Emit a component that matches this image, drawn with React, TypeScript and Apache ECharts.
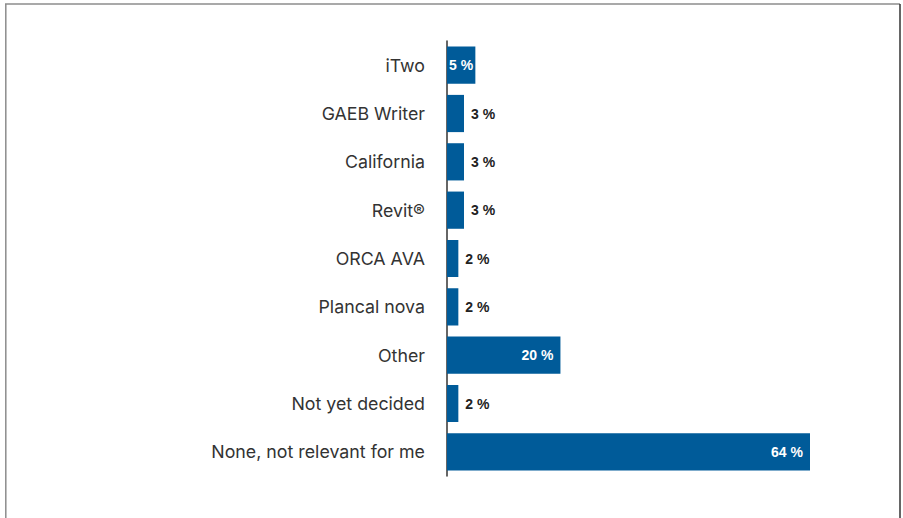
import React, { useEffect, useRef } from "react";
import * as echarts from "echarts";

const categories = [
  "iTwo",
  "GAEB Writer",
  "California",
  "Revit®",
  "ORCA AVA",
  "Plancal nova",
  "Other",
  "Not yet decided",
  "None, not relevant for me",
];
const values = [5, 3, 3, 3, 2, 2, 20, 2, 64];
const labelInside = [true, false, false, false, false, false, true, false, true];

export default function App() {
  const ref = useRef<HTMLDivElement>(null);
  useEffect(() => {
    if (!ref.current) return;
    const chart = echarts.init(ref.current, null, { renderer: "svg" });
    const data = values.map((v, i) => {
      const inside = labelInside[i];
      const small = v < 10;
      return {
        value: v,
        label: inside
          ? {
              show: true,
              position: small ? "inside" : "insideRight",
              distance: 7,
              color: "#ffffff",
            }
          : { show: true, position: "right", distance: 7, color: "#222222" },
      };
    });
    chart.setOption({
      animation: false,
      graphic: [
        { type: "line", shape: { x1: 5, y1: 4, x2: 900, y2: 4 }, style: { stroke: "#8c8c8c", lineWidth: 1.5 } },
        { type: "line", shape: { x1: 5.8, y1: 4, x2: 5.8, y2: 520 }, style: { stroke: "#8c8c8c", lineWidth: 1.5 } },
        { type: "line", shape: { x1: 900, y1: 4, x2: 900, y2: 520 }, style: { stroke: "#333333", lineWidth: 1.5 } },
      ],
      grid: { left: 447, right: 903 - 447 - 363 / 64 * 70, top: 41, bottom: 518 - 476, containLabel: false },
      xAxis: {
        type: "value",
        min: 0,
        max: 70,
        show: false,
      },
      yAxis: {
        type: "category",
        inverse: true,
        data: categories,
        axisLine: { show: true, lineStyle: { color: "#333333", width: 1.5 } },
        axisTick: { show: false },
        axisLabel: {
          margin: 22,
          fontSize: 17.8,
          color: "#333333",
          fontFamily: "Inter",
        },
      },
      series: [
        {
          type: "bar",
          data,
          barCategoryGap: "23%",
          itemStyle: { color: "#005b99" },
          label: {
            show: true,
            formatter: "{c} %",
            fontSize: 14,
            fontWeight: "bold",
            fontFamily: "Liberation Sans",
          },
        },
      ],
    });
    return () => chart.dispose();
  }, []);
  return (
    <div
      ref={ref}
      style={{ position: "fixed", left: 0, top: 0, width: 903, height: 518, background: "#fff" }}
    />
  );
}
